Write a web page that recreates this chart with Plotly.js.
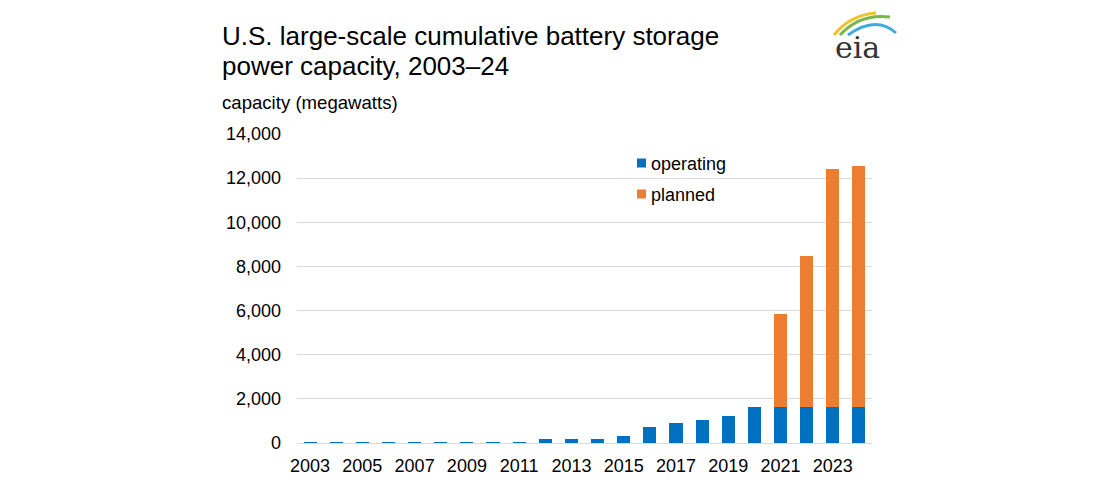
<!DOCTYPE html>
<html>
<head>
<meta charset="utf-8">
<script src="https://cdn.plot.ly/plotly-3.0.1.min.js"></script>
<style>html,body{margin:0;padding:0;background:#fff;}#chart{width:1100px;height:500px;}</style>
</head>
<body>
<div id="chart"></div>
<script>
const years = ["2003","2004","2005","2006","2007","2008","2009","2010","2011","2012","2013","2014","2015","2016","2017","2018","2019","2020","2021","2022","2023","2024"];
const operating = [60,60,60,60,60,60,60,60,60,170,170,170,330,710,890,1040,1220,1640,1640,1640,1640,1640];
const planned = [0,0,0,0,0,0,0,0,0,0,0,0,0,0,0,0,0,0,4210,6850,10780,10900];
const tickYears = ["2003","2005","2007","2009","2011","2013","2015","2017","2019","2021","2023"];
const seriesNames = ["operating","planned"];
const seriesColors = ["#0070C0","#ED7D31"];
const titleLines = ["U.S. large-scale cumulative battery storage","power capacity, 2003–24"];

const font = "Arial, 'Liberation Sans', sans-serif";
const logoSvg = '<svg xmlns="http://www.w3.org/2000/svg" width="90" height="60" viewBox="0 0 90 60">' +
 '<path d="M14 30 Q30 10 56 8" stroke="#f2c12e" stroke-width="3" fill="none"/>' +
 '<path d="M20 30 Q40 8 70 12" stroke="#7ab648" stroke-width="3" fill="none"/>' +
 '<path d="M28 30 Q56 10 76 28" stroke="#3fa9e0" stroke-width="3" fill="none"/>' +
 '<text x="15" y="53" font-family="DejaVu Serif, Liberation Serif, serif" font-size="30" fill="#333">eia</text></svg>';

const data = [
 {type:"bar", name:seriesNames[0], x:years, y:operating, marker:{color:seriesColors[0]}, showlegend:false},
 {type:"bar", name:seriesNames[1], x:years, y:planned, marker:{color:seriesColors[1]}, showlegend:false}
];
const px = v => (v-297)/575;
const py = v => (443-v)/309;
const legendRows = [163, 194];
const shapes = [], annotations = [];
seriesNames.forEach((n,i)=>{
  shapes.push({type:"rect", xref:"paper", yref:"paper", x0:px(637), x1:px(646), y0:py(legendRows[i]+4.5), y1:py(legendRows[i]-4.5),
    fillcolor:seriesColors[i], line:{width:0}});
  annotations.push({xref:"paper", yref:"paper", x:px(649), y:py(legendRows[i]+1), xanchor:"left", yanchor:"middle", showarrow:false,
    text:n, font:{size:18, family:font, color:"#000"}});
});
const titleRows = [36, 66];
titleLines.forEach((t,i)=>{
  annotations.push({xref:"paper", yref:"paper", x:px(220), y:py(titleRows[i]), xanchor:"left", yanchor:"middle", align:"left", showarrow:false,
   text:t, font:{size:26, family:font, color:"#000"}});
});
annotations.push(
  {xref:"paper", yref:"paper", x:px(220), y:py(103), xanchor:"left", yanchor:"middle", showarrow:false,
   text:"capacity (megawatts)", font:{size:18.6, family:font, color:"#000"}}
);
const layout = {
 width:1100, height:500,
 barmode:"stack", bargap:0.5,
 margin:{l:297, r:228, t:134, b:57},
 paper_bgcolor:"#fff", plot_bgcolor:"#fff",
 font:{family:font, size:18, color:"#000"},
 xaxis:{type:"category", tickvals:tickYears, ticktext:tickYears, showline:true, linecolor:"#d9d9d9", linewidth:1, ticks:"", tickfont:{size:18}, ticklabelstandoff:6, fixedrange:true},
 yaxis:{range:[0,14000], dtick:2000, tickformat:",d", gridcolor:"#d9d9d9", gridwidth:1, zeroline:false, showline:false, ticks:"", tickfont:{size:18}, ticklabelstandoff:15, fixedrange:true},
 showlegend:false,
 shapes:shapes,
 annotations:annotations,
 images:[{source:"data:image/svg+xml;charset=utf-8,"+encodeURIComponent(logoSvg), xref:"paper", yref:"paper",
   x:px(820), y:py(5), sizex:90/575, sizey:60/309, xanchor:"left", yanchor:"top", sizing:"stretch"}]
};
Plotly.newPlot("chart", data, layout, {displayModeBar:false, staticPlot:true});
</script>
</body>
</html>
